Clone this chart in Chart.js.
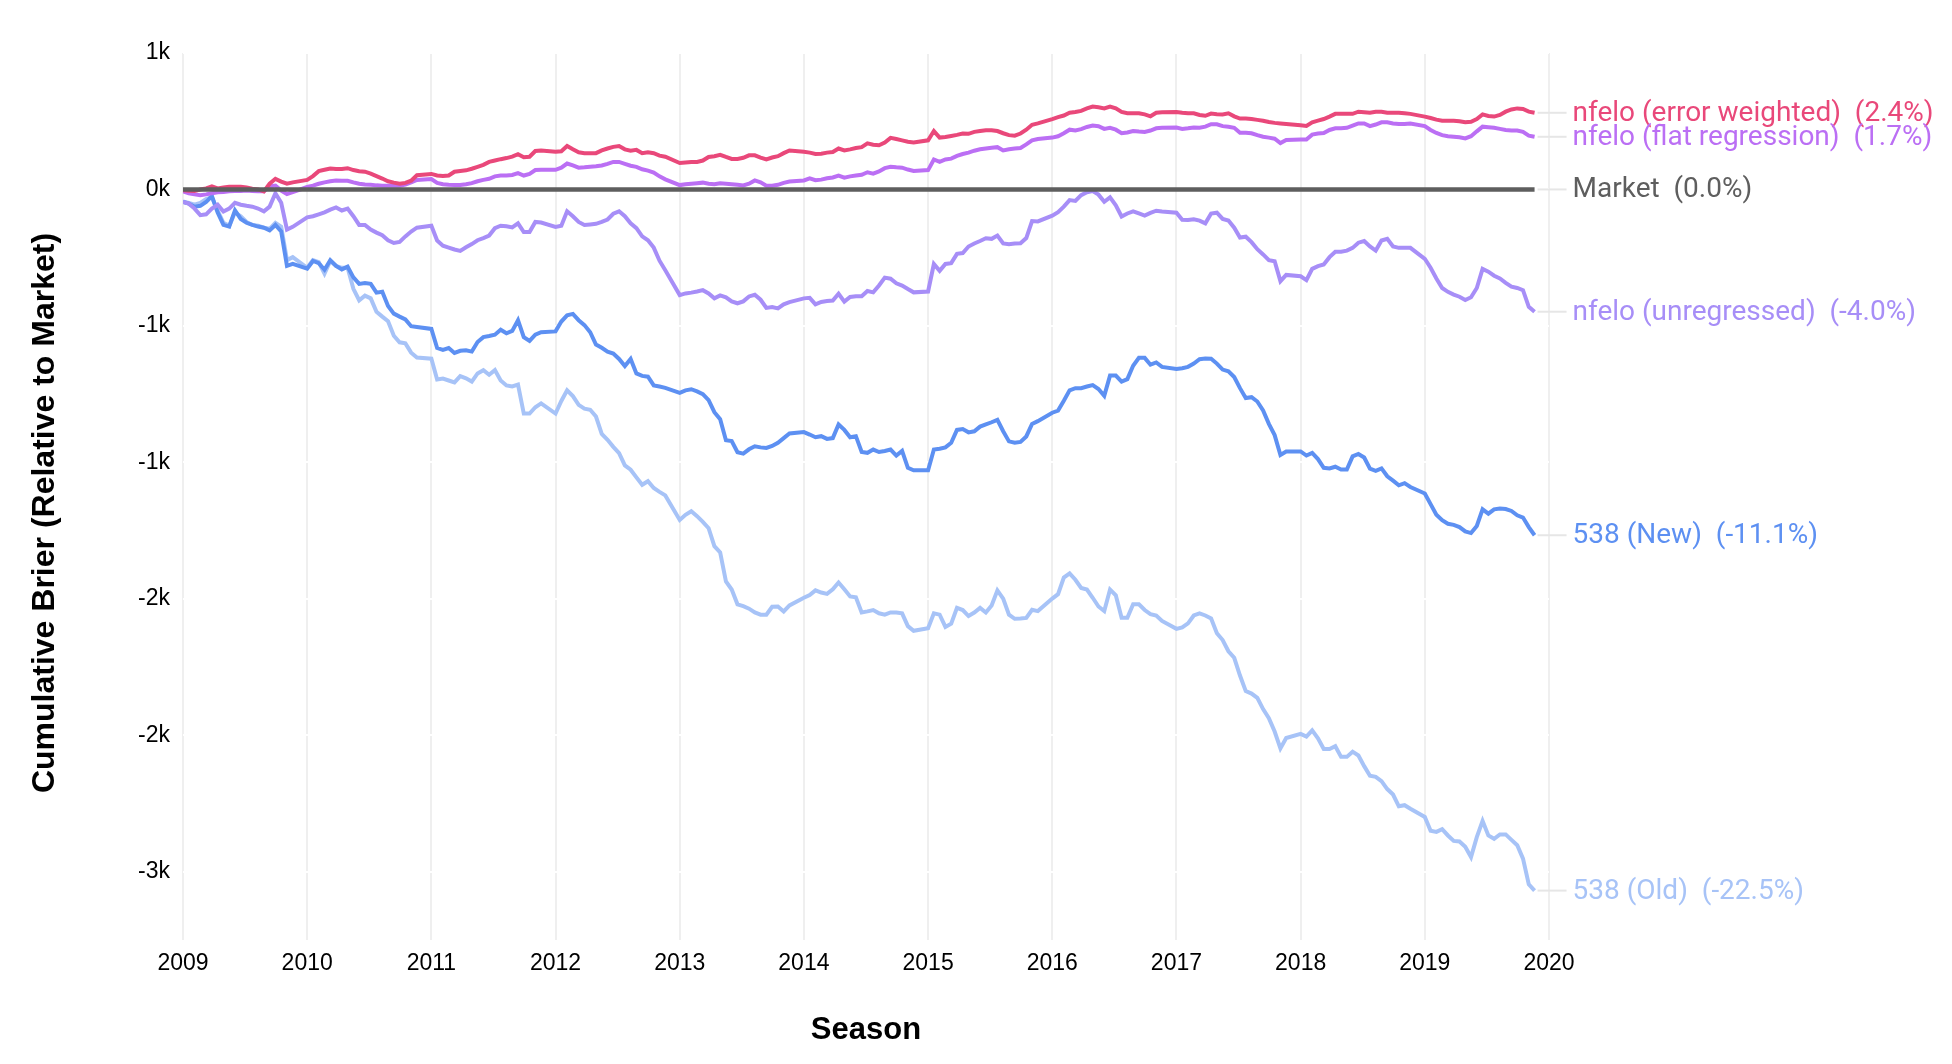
<!DOCTYPE html>
<html>
<head>
<meta charset="utf-8">
<script src="https://cdn.jsdelivr.net/npm/chart.js@4.4.0/dist/chart.umd.min.js"></script>
<style>
  html, body { margin: 0; padding: 0; background: #fff; }
  #wrap { width: 1952px; height: 1064px; position: relative; }
</style>
</head>
<body>
<div id="wrap"><canvas id="brierChart"></canvas></div>
<script>
// Temporadas (eje x) y semanas por temporada
const seasons = [2009, 2010, 2011, 2012, 2013, 2014, 2015, 2016, 2017, 2018, 2019];
const weeksPerSeason = 20;
const weekStep = 1 / 21.5;

const xTickValues = [2009, 2010, 2011, 2012, 2013, 2014, 2015, 2016, 2017, 2018, 2019, 2020];
const yTickValues = [500, 0, -500, -1000, -1500, -2000, -2500];

// Brier acumulado relativo al mercado, una fila por temporada
const marketValue = 0;

const errorWeighted = [
  -3, -5, -6, 0, 4, 11, 4, 7, 10, 10, 10, 7, 3, 0, -7, 21, 39, 29, 21, 26,
  35, 49, 67, 72, 77, 75, 75, 78, 71, 67, 65, 58, 49, 40, 30, 25, 21, 24, 32, 52,
  57, 51, 49, 51, 65, 68, 70, 76, 83, 90, 101, 106, 111, 115, 120, 129, 118, 120, 141, 143,
  138, 140, 159, 147, 136, 133, 133, 133, 143, 150, 156, 159, 147, 142, 145, 133, 136, 133, 124, 120,
  97, 99, 101, 101, 106, 119, 122, 127, 119, 112, 112, 116, 125, 125, 117, 110, 117, 122, 133, 143,
  138, 135, 130, 131, 135, 137, 150, 143, 147, 152, 155, 169, 164, 162, 172, 189, 185, 180, 175, 172,
  180, 214, 190, 192, 196, 200, 205, 204, 211, 214, 217, 217, 214, 206, 199, 197, 205, 219, 237, 242,
  258, 265, 271, 281, 284, 288, 297, 304, 301, 297, 304, 297, 284, 279, 279, 279, 275, 268, 281, 283,
  284, 281, 279, 279, 273, 270, 278, 276, 275, 279, 268, 260, 260, 258, 255, 252, 247, 244, 242, 240,
  235, 233, 246, 252, 258, 267, 277, 277, 277, 277, 285, 283, 281, 285, 285, 281, 281, 281, 279, 277,
  267, 262, 256, 252, 252, 252, 250, 246, 248, 258, 275, 269, 267, 273, 285, 293, 297, 295, 285, 281
];

const flatRegression = [
  -7, -14, -18, -21, -18, -14, -10, -9, -7, -6, -6, -4, -6, -7, -7, 11, 14, -4, -17, -10,
  9, 14, 21, 26, 30, 33, 32, 32, 26, 21, 18, 17, 15, 14, 14, 14, 14, 18, 26, 35,
  38, 24, 19, 17, 16, 16, 19, 23, 30, 35, 39, 48, 51, 51, 53, 60, 51, 57, 71, 72,
  72, 80, 95, 88, 80, 81, 83, 85, 88, 94, 101, 101, 94, 87, 83, 74, 69, 62, 48, 37,
  16, 19, 21, 23, 25, 21, 19, 23, 21, 19, 17, 15, 21, 33, 26, 14, 14, 17, 24, 29,
  33, 41, 34, 36, 41, 44, 51, 43, 48, 51, 54, 63, 58, 66, 78, 83, 81, 80, 73, 68,
  71, 110, 101, 110, 113, 123, 130, 135, 142, 147, 150, 153, 155, 143, 147, 150, 152, 165, 180, 185,
  190, 195, 206, 219, 216, 221, 229, 234, 232, 222, 226, 219, 206, 209, 214, 212, 211, 216, 224, 226,
  227, 222, 224, 227, 226, 230, 239, 239, 232, 230, 226, 208, 208, 206, 199, 193, 190, 186, 170, 181,
  183, 183, 201, 205, 207, 218, 224, 224, 226, 234, 242, 242, 232, 238, 246, 246, 242, 240, 240, 242,
  232, 218, 207, 199, 195, 193, 191, 187, 195, 213, 230, 228, 226, 222, 218, 216, 216, 211, 197, 193
];

const unregressed = [
  -46, -52, -70, -94, -91, -70, -56, -81, -70, -49, -56, -60, -63, -70, -80, -63, -14, -49, -147, -137,
  -102, -98, -91, -84, -74, -66, -77, -70, -98, -130, -130, -147, -158, -168, -186, -196, -192, -172, -154, -140,
  -133, -187, -206, -213, -220, -225, -212, -200, -186, -178, -169, -142, -133, -135, -139, -124, -156, -156, -119, -121,
  -137, -133, -80, -98, -119, -130, -128, -126, -119, -110, -89, -80, -98, -124, -142, -172, -186, -213, -261, -296,
  -387, -381, -378, -374, -369, -381, -399, -388, -395, -410, -417, -410, -392, -386, -404, -434, -431, -436, -421, -413,
  -399, -397, -421, -412, -409, -407, -382, -411, -394, -391, -391, -372, -377, -352, -323, -327, -344, -352, -365, -377,
  -374, -273, -298, -273, -270, -236, -233, -209, -198, -189, -179, -181, -169, -198, -201, -198, -197, -178, -116, -117,
  -96, -83, -63, -39, -42, -21, -10, -6, -19, -45, -29, -58, -99, -88, -80, -88, -96, -86, -78, -81,
  -85, -111, -112, -109, -114, -124, -88, -85, -108, -114, -140, -176, -173, -193, -219, -238, -259, -263, -336, -313,
  -318, -332, -291, -281, -275, -248, -228, -228, -224, -214, -195, -189, -209, -224, -187, -181, -209, -214, -214, -214,
  -254, -287, -326, -361, -375, -385, -393, -405, -395, -361, -291, -301, -316, -326, -342, -356, -361, -369, -430, -448
];

const fte538New = [
  -46, -52, -63, -60, -46, -24, -84, -130, -136, -77, -108, -122, -130, -136, -140, -150, -130, -154, -280, -273,
  -290, -262, -270, -294, -259, -280, -293, -283, -322, -346, -343, -346, -378, -375, -427, -455, -466, -476, -501, -504,
  -511, -581, -588, -581, -599, -591, -589, -594, -559, -541, -537, -532, -514, -527, -518, -479, -541, -555, -532, -523,
  -520, -484, -461, -456, -479, -497, -523, -568, -580, -594, -601, -621, -647, -621, -674, -683, -686, -718, -722, -727,
  -745, -736, -732, -740, -750, -772, -816, -842, -919, -922, -963, -968, -952, -941, -945, -947, -940, -928, -911, -894,
  -889, -898, -908, -904, -914, -911, -861, -881, -908, -904, -962, -965, -953, -962, -958, -953, -975, -958, -1020, -1029,
  -1029, -953, -950, -945, -928, -881, -878, -890, -886, -869, -861, -853, -844, -886, -923, -928, -925, -905, -859, -849,
  -818, -810, -774, -736, -728, -728, -722, -717, -731, -756, -682, -682, -704, -695, -646, -617, -617, -642, -634, -650,
  -658, -655, -650, -638, -622, -619, -620, -638, -660, -666, -687, -728, -764, -761, -777, -810, -859, -900, -973, -960,
  -960, -975, -965, -988, -1020, -1022, -1016, -1026, -1026, -978, -969, -982, -1023, -1031, -1022, -1051, -1067, -1084, -1076, -1090,
  -1114, -1153, -1192, -1212, -1225, -1229, -1237, -1253, -1259, -1233, -1172, -1188, -1172, -1169, -1171, -1178, -1194, -1202, -1237, -1267
];

const fte538Old = [
  -44, -49, -56, -49, -35, -28, -77, -122, -133, -84, -98, -119, -130, -133, -140, -144, -122, -136, -259, -248,
  -287, -259, -266, -308, -262, -280, -287, -287, -364, -406, -389, -399, -448, -466, -483, -536, -560, -564, -598, -616,
  -620, -696, -693, -700, -707, -684, -692, -704, -674, -662, -679, -662, -700, -718, -722, -715, -821, -821, -798, -784,
  -821, -775, -736, -757, -789, -803, -807, -832, -896, -917, -943, -966, -1011, -1027, -1055, -1082, -1069, -1094, -1108, -1121,
  -1211, -1192, -1179, -1197, -1218, -1241, -1307, -1330, -1436, -1466, -1520, -1527, -1536, -1550, -1558, -1558, -1529, -1528, -1546, -1524,
  -1496, -1486, -1469, -1477, -1482, -1465, -1440, -1465, -1491, -1494, -1550, -1546, -1541, -1553, -1558, -1550, -1550, -1553, -1600, -1617,
  -1608, -1553, -1558, -1603, -1591, -1533, -1541, -1563, -1550, -1533, -1550, -1524, -1469, -1499, -1558, -1573, -1572, -1570, -1540, -1545,
  -1499, -1483, -1422, -1407, -1430, -1460, -1466, -1496, -1528, -1545, -1466, -1487, -1569, -1569, -1520, -1520, -1541, -1556, -1561, -1581,
  -1610, -1605, -1590, -1561, -1553, -1561, -1572, -1626, -1651, -1692, -1716, -1781, -1838, -1847, -1863, -1904, -1937, -1986, -2048, -2010,
  -1995, -2005, -1982, -2011, -2050, -2050, -2040, -2079, -2079, -2060, -2074, -2113, -2148, -2152, -2168, -2197, -2217, -2260, -2256, -2269,
  -2299, -2350, -2354, -2344, -2367, -2387, -2389, -2408, -2446, -2373, -2314, -2367, -2379, -2363, -2363, -2383, -2403, -2452, -2546, -2569
];

const seriesNames = ['Market', 'nfelo (error weighted)', 'nfelo (flat regression)', 'nfelo (unregressed)', '538 (New)', '538 (Old)'];
const endPercents = ['0.0%', '2.4%', '1.7%', '-4.0%', '-11.1%', '-22.5%'];
const seriesColors = ['#5e5e5e', '#e9487a', '#bb6ff4', '#a78ef7', '#5d90f2', '#a7c3f7'];

const axisFont = "'Liberation Sans', Arial, sans-serif";

// Posición x de cada semana
const weekX = [];
seasons.forEach(s => {
    for (let w = 0; w < weeksPerSeason; w++) weekX.push(s + w * weekStep);
});
const toPoints = values => values.map((v, i) => ({ x: weekX[i], y: v }));

const marketPoints = [
    { x: weekX[0], y: marketValue },
    { x: weekX[weekX.length - 1], y: marketValue }
];

const seriesData = [marketPoints, toPoints(errorWeighted), toPoints(flatRegression),
    toPoints(unregressed), toPoints(fte538New), toPoints(fte538Old)];

const kLabel = v => (v < 0 ? '-' : '') + Math.round(Math.abs(v) / 1000) + 'k';

// Etiquetas al final de cada línea
const endLabels = {
    id: 'endLabels',
    afterDatasetsDraw(chart) {
        const ctx = chart.ctx;
        ctx.save();
        chart.data.datasets.forEach((ds, i) => {
            const pts = chart.getDatasetMeta(i).data;
            const last = pts[pts.length - 1];
            ctx.strokeStyle = '#e6e6e6';
            ctx.lineWidth = 2;
            ctx.beginPath();
            ctx.moveTo(last.x + 3, last.y);
            ctx.lineTo(last.x + 32, last.y);
            ctx.stroke();
            ctx.fillStyle = ds.borderColor;
            ctx.font = '28px Roboto';
            ctx.textAlign = 'left';
            ctx.textBaseline = 'middle';
            ctx.fillText(ds.label + '  (' + endPercents[i] + ')', last.x + 38, last.y + 1);
        });
        ctx.restore();
    }
};

// Título del eje y
const yTitle = {
    id: 'yTitle',
    afterDraw(chart) {
        const ctx = chart.ctx;
        ctx.save();
        ctx.translate(45, 513);
        ctx.rotate(-Math.PI / 2);
        ctx.fillStyle = '#000';
        ctx.font = 'bold 32px ' + axisFont;
        ctx.textAlign = 'center';
        ctx.textBaseline = 'middle';
        ctx.fillText('Cumulative Brier (Relative to Market)', 0, 0);
        ctx.restore();
    }
};

const brierChart = new Chart(document.getElementById('brierChart'), {
    type: 'line',
    data: {
        datasets: seriesData.map((d, i) => ({
            label: seriesNames[i],
            data: d,
            borderColor: seriesColors[i],
            backgroundColor: seriesColors[i],
            borderWidth: i === 0 ? 4.5 : 4,
            pointRadius: 0,
            tension: 0,
            fill: false
        }))
    },
    options: {
        responsive: true,
        maintainAspectRatio: false,
        animation: false,
        devicePixelRatio: 1,
        layout: { padding: { top: 53, right: 403, bottom: 0, left: 0 } },
        plugins: {
            legend: { display: false },
            tooltip: { enabled: false }
        },
        scales: {
            x: {
                type: 'linear',
                min: 2009,
                max: 2020,
                afterBuildTicks: s => { s.ticks = xTickValues.map(v => ({ value: v })); },
                afterFit: s => { s.height = 124; },
                grid: { color: '#efefef', lineWidth: 2, drawTicks: false },
                border: { display: false },
                ticks: {
                    padding: 10,
                    color: '#000',
                    autoSkip: false,
                    maxRotation: 0,
                    font: { family: axisFont, size: 23 },
                    callback: v => String(v)
                },
                title: {
                    display: true,
                    text: 'Season',
                    color: '#000',
                    font: { family: axisFont, size: 31, weight: 'bold' },
                    padding: { top: 0, bottom: 15 }
                }
            },
            y: {
                min: -2750,
                max: 500,
                afterBuildTicks: s => { s.ticks = yTickValues.map(v => ({ value: v })); },
                afterFit: s => { s.width = 183; },
                grid: { color: '#ffffff', lineWidth: 2, drawTicks: false },
                border: { display: false },
                ticks: {
                    padding: 13,
                    color: '#000',
                    font: { family: axisFont, size: 23 },
                    callback: v => kLabel(v)
                }
            }
        }
    },
    plugins: [endLabels, yTitle]
});
</script>
</body>
</html>
